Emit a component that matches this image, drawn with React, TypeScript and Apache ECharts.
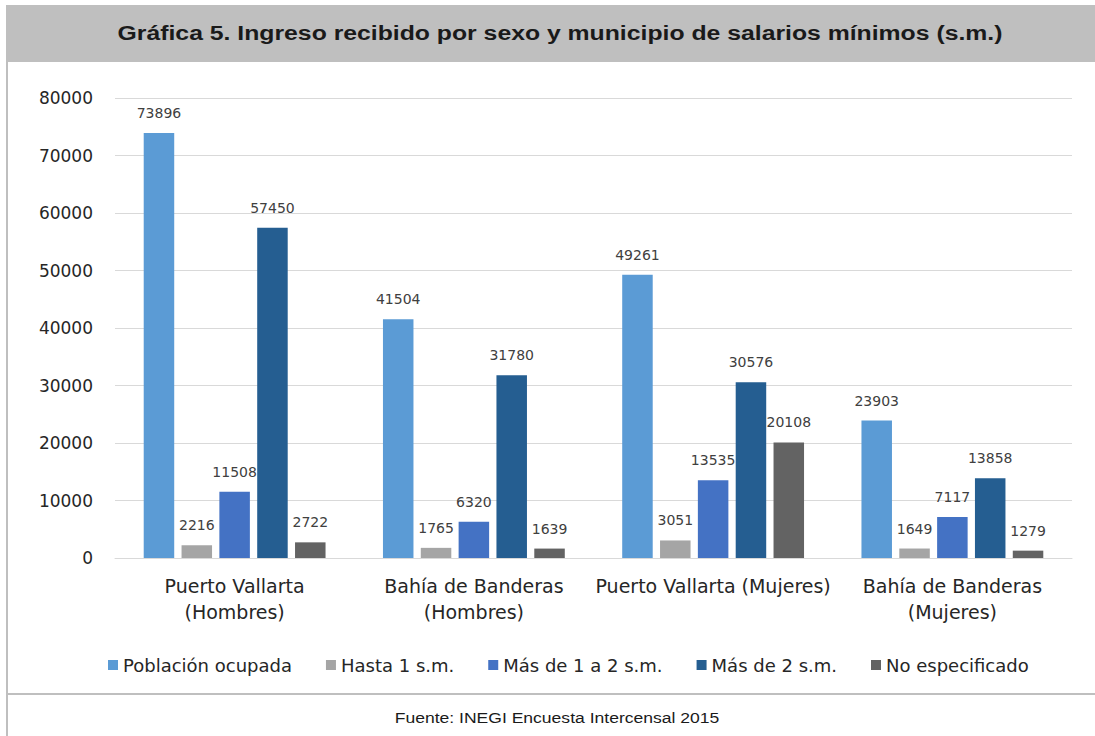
import React, { useEffect, useRef } from "react";
import * as echarts from "echarts";

const titleText = "Gráfica 5. Ingreso recibido por sexo y municipio de salarios mínimos (s.m.)";
const sourceText = "Fuente: INEGI Encuesta Intercensal 2015";
const categories = [
  "Puerto Vallarta\n(Hombres)",
  "Bahía de Banderas\n(Hombres)",
  "Puerto Vallarta (Mujeres)",
  "Bahía de Banderas\n(Mujeres)",
];
const seriesNames = [
  "Población ocupada",
  "Hasta 1 s.m.",
  "Más de 1 a 2 s.m.",
  "Más de 2 s.m.",
  "No especificado",
];
const poblacionOcupada = [73896, 41504, 49261, 23903];
const hasta1 = [2216, 1765, 3051, 1649];
const de1a2 = [11508, 6320, 13535, 7117];
const masDe2 = [57450, 31780, 30576, 13858];
const noEspecificado = [2722, 1639, 20108, 1279];
const seriesData = [poblacionOcupada, hasta1, de1a2, masDe2, noEspecificado];
const colors = ["#5b9bd5", "#a5a5a5", "#4472c4", "#255e91", "#636363"];

const FONT = "'DejaVu Sans', 'Open Sans', sans-serif";
const ARIAL = "'Liberation Sans', Arial, sans-serif";

export default function App() {
  const ref = useRef<HTMLDivElement>(null);
  useEffect(() => {
    if (!ref.current) return;
    const chart = echarts.init(ref.current, null, { renderer: "svg" });
    chart.setOption({
      animation: false,
      backgroundColor: "#ffffff",
      color: colors,
      textStyle: { fontFamily: FONT },
      grid: { left: 115, right: 23, top: 98, bottom: 178 },
      legend: {
        top: 651,
        left: 103,
        itemWidth: 10,
        itemHeight: 10,
        itemGap: 34,
        icon: "rect",
        textStyle: { fontSize: 18, color: "#262626", fontFamily: FONT },
        data: seriesNames,
      },
      xAxis: {
        type: "category",
        data: categories,
        axisLine: { lineStyle: { color: "#d9d9d9", width: 1 } },
        axisTick: { show: false },
        axisLabel: {
          fontSize: 19,
          color: "#262626",
          margin: 15,
          lineHeight: 26,
          interval: 0,
          fontFamily: FONT,
        },
      },
      yAxis: {
        type: "value",
        min: 0,
        max: 80000,
        interval: 10000,
        splitLine: { lineStyle: { color: "#d9d9d9", width: 1 } },
        axisLine: { show: false },
        axisTick: { show: false },
        axisLabel: {
          fontSize: 17,
          color: "#262626",
          margin: 22,
          fontFamily: FONT,
          formatter: (v: number) => String(v),
        },
      },
      series: seriesNames.map((name, i) => ({
        name,
        type: "bar",
        data: seriesData[i],
        barGap: "24%",
        barCategoryGap: "24%",
        itemStyle: { color: colors[i] },
        label: {
          show: true,
          position: "top",
          distance: 13,
          fontSize: 14,
          color: "#404040",
          fontFamily: FONT,
        },
      })),
      graphic: [
        {
          type: "rect",
          shape: { x: 6, y: 5, width: 1089, height: 57 },
          style: { fill: "#bfbfbf" },
          z: 0,
        },
        {
          type: "text",
          x: 560,
          y: 33,
          scaleX: 1.18,
          style: {
            text: titleText,
            fontSize: 21,
            fontWeight: "bold",
            fontFamily: ARIAL,
            fill: "#1a1a1a",
            align: "center",
            verticalAlign: "middle",
          },
        },
        {
          type: "rect",
          shape: { x: 6, y: 5, width: 2, height: 731 },
          style: { fill: "#bfbfbf" },
        },
        {
          type: "rect",
          shape: { x: 6, y: 693, width: 1089, height: 2 },
          style: { fill: "#bfbfbf" },
        },
        {
          type: "text",
          x: 557,
          y: 717,
          scaleX: 1.17,
          style: {
            text: sourceText,
            fontSize: 15,
            fontFamily: ARIAL,
            fill: "#1a1a1a",
            align: "center",
            verticalAlign: "middle",
          },
        },
      ],
    });
    return () => chart.dispose();
  }, []);
  return <div ref={ref} style={{ width: 1095, height: 736, position: "fixed", left: 0, top: 0 }} />;
}
